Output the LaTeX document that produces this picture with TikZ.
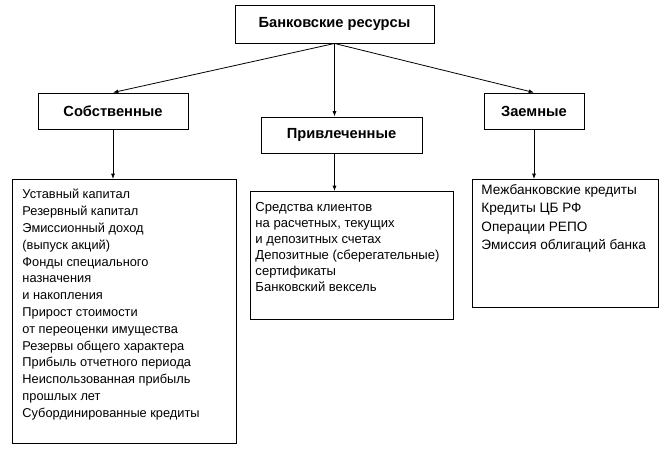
\documentclass[tikz,border=0pt]{standalone}
\usepackage{fontspec}
\setmainfont{Liberation Sans}
\usetikzlibrary{calc}
\usetikzlibrary{positioning}
\usetikzlibrary{arrows.meta}

\begin{document}
\begin{tikzpicture}[x=0.75pt,y=-0.75pt,
  every node/.style={draw,line width=0.7pt},
  head/.style={font=\bfseries\fontsize{11}{13}\selectfont,minimum height=27pt,inner sep=0pt},
  list/.style={anchor=north west,font=\fontsize{9.6}{12.6}\selectfont},
  link/.style={line width=0.6pt,-{Latex[length=4pt,width=3pt]}}]

  \useasboundingbox (0,0) rectangle (666,450);

  \node [head, minimum width=149.25pt, minimum height=28.5pt] (res) at (334.5,24) {Банковские ресурсы};

  \node [head, minimum width=112.5pt] (own) at (113,111) {Собственные};
  \node [head, minimum width=120.75pt] (att) at (341.5,135) {Привлеченные};
  \node [head, minimum width=75pt] (bor) at (534,111) {Заемные};

  \node [list, inner xsep=7.5pt, inner ysep=7.5pt] (ownlist) at (12,179)
    {\parbox[t][183pt][t]{153pt}{\raggedright Уставный капитал\\ Резервный капитал\\ Эмиссионный доход\\ (выпуск акций)\\ Фонды специального\\ назначения\\ и накопления\\ Прирост стоимости\\ от переоценки имущества\\ Резервы общего характера\\ Прибыль отчетного периода\\ Неиспользованная прибыль\\ прошлых лет\\ Субординированные кредиты}};
  \node [list, inner xsep=3.75pt, inner ysep=8.25pt, font=\fontsize{9.8}{12}\selectfont] (attlist) at (250,191)
    {\parbox[t][79.5pt][t]{144.75pt}{\raggedright Средства клиентов\\ на расчетных, текущих\\ и депозитных счетах\\ Депозитные (сберегательные)\\ сертификаты\\ Банковский вексель}};
  \node [list, inner xsep=6.75pt, inner ysep=3.75pt, font=\fontsize{10.2}{13.8}\selectfont] (borlist) at (472,179)
    {\parbox[t][88.5pt][t]{126pt}{\raggedright Межбанковские кредиты\\ Кредиты ЦБ РФ\\ Операции РЕПО\\ Эмиссия облигаций банка}};

  \draw [link] (res.south) -- (own.north);
  \draw [link] (res.south) -- (res.south |- att.north);
  \draw [link] (res.south) -- (bor.north);
  \draw [link] (own.south) -- (own.south |- ownlist.north);
  \draw [link] (res.south |- att.south) -- (res.south |- attlist.north);
  \draw [link] (bor.south) -- (bor.south |- borlist.north);

\end{tikzpicture}
\end{document}
